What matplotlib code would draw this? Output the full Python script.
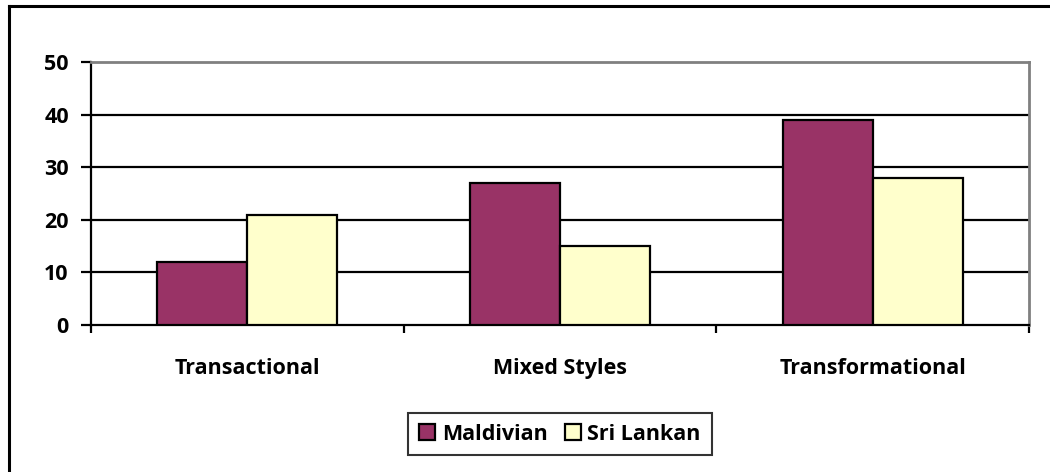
import matplotlib
matplotlib.use("Agg")
import matplotlib.pyplot as plt
from matplotlib.lines import Line2D
import numpy as np

categories = ["Transactional", "Mixed Styles", "Transformational"]
series_names = ["Maldivian", "Sri Lankan"]
maldivian = [12, 27, 39]
sri_lankan = [21, 15, 28]
y_ticks = [0, 10, 20, 30, 40, 50]

colors = ["#993366", "#FFFFCC"]

plt.rcParams["font.family"] = ["Open Sans", "DejaVu Sans"]
plt.rcParams["font.weight"] = "bold"

FS = 15.5

W, H = 1050, 472
fig = plt.figure(figsize=(W / 100, H / 100), dpi=100)
ax = fig.add_axes([91 / W, 1 - 325 / H, (1029 - 91) / W, (325 - 62) / H])

x = np.arange(len(categories))
bw = 0.288
for vals, name, col, off in zip([maldivian, sri_lankan], series_names, colors, [-0.5, 0.5]):
    ax.bar(x + off * bw, vals, width=bw, color=col, edgecolor="black",
           linewidth=1.6, label=name, zorder=3)

ax.set_xlim(-0.5, len(categories) - 0.5)
ax.set_ylim(0, 50)
ax.set_yticks(y_ticks)
ax.set_yticklabels([str(v) for v in y_ticks], fontsize=FS, fontweight="bold")
ax.set_xticks(np.arange(len(categories) + 1) - 0.5)
ax.set_xticklabels([])
ax.set_xticks(x, minor=True)
ax.set_xticklabels(categories, minor=True, fontsize=FS, fontweight="bold")
ax.tick_params(axis="x", which="minor", length=0, pad=24)
ax.tick_params(axis="x", which="major", length=6, width=1.6, direction="out", color="black")
ax.tick_params(axis="y", length=7, width=1.6, direction="out", pad=9, color="black")

for y in y_ticks[1:-1]:
    ax.axhline(y, color="black", linewidth=1.6, zorder=1)

ax.spines["left"].set_color("black")
ax.spines["left"].set_linewidth(1.6)
ax.spines["bottom"].set_color("black")
ax.spines["bottom"].set_linewidth(1.6)
ax.spines["top"].set_color("#808080")
ax.spines["top"].set_linewidth(2)
ax.spines["right"].set_color("#808080")
ax.spines["right"].set_linewidth(2)

leg = fig.legend(loc="center", bbox_to_anchor=(560 / W, 1 - 434 / H), ncol=2,
                 frameon=True, fancybox=False, edgecolor="black",
                 prop={"size": FS, "weight": "bold"}, handlelength=0.75,
                 handleheight=0.75, handletextpad=0.3, columnspacing=0.8,
                 borderpad=0.5, borderaxespad=0)
leg.get_frame().set_linewidth(1.5)

# chart-area border along left and top edges
fig.add_artist(Line2D([9 / W, 9 / W], [0, 1 - 6 / H], transform=fig.transFigure,
                      color="black", linewidth=2.2))
fig.add_artist(Line2D([9 / W, 1], [1 - 6 / H, 1 - 6 / H], transform=fig.transFigure,
                      color="black", linewidth=2.2))

fig.savefig("out.png", dpi=100, facecolor="white")
